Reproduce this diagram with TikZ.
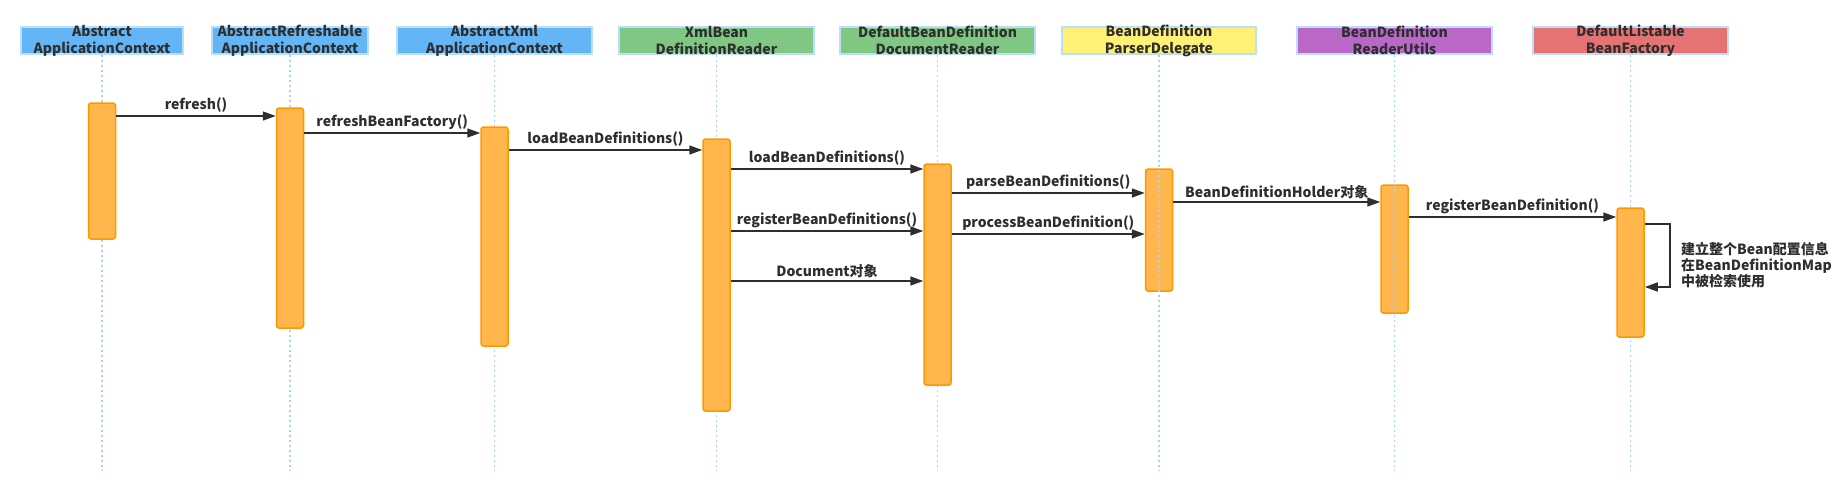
\documentclass[tikz,border=0pt]{standalone}
\usepackage{fontspec}
\setmainfont{Noto Sans CJK SC}
\usetikzlibrary{arrows.meta}

\definecolor{ink}{HTML}{2E2E2E}
\definecolor{hblue}{HTML}{64B5F6}
\definecolor{hgreen}{HTML}{81C784}
\definecolor{hyellow}{HTML}{FFF176}
\definecolor{hpurple}{HTML}{BA68C8}
\definecolor{hred}{HTML}{E57373}
\definecolor{hline}{HTML}{BBDEFB}
\definecolor{lifeblue}{HTML}{A8D3F7}
\definecolor{barfill}{HTML}{FFB74D}
\definecolor{barline}{HTML}{FF9800}

\begin{document}
\begin{tikzpicture}[x=1pt,y=-1pt,
  font=\bfseries\fontsize{14}{17}\selectfont, text=ink,
  head/.style={draw=hline, line width=1.2pt, minimum height=27pt, inner sep=0pt},
  htext/.style={align=center, inner sep=0pt},
  life/.style={draw=lifeblue, line width=1.2pt, dash pattern=on 2pt off 3pt},
  act/.style={draw=barline, fill=barfill, line width=1.5pt, rounded corners=2.5pt,
    minimum width=27pt, inner sep=0pt},
  msg/.style={draw=ink, line width=1.6pt, -{Triangle[length=13pt,width=9pt]}},
  lbl/.style={midway, above, inner sep=2.5pt}]
\useasboundingbox (0,0) rectangle (1845,483);

% heads
\node[head, fill=hblue, minimum width=162pt] (h1) at (102,40.5) {};
\node[head, fill=hblue, minimum width=156pt] (h2) at (290,40.5) {};
\node[head, fill=hblue, minimum width=195pt] (h3) at (494.5,40.5) {};
\node[head, fill=hgreen, minimum width=195pt] (h4) at (716.5,40.5) {};
\node[head, fill=hgreen, minimum width=195pt] (h5) at (937.5,40.5) {};
\node[head, fill=hyellow, minimum width=194pt] (h6) at (1159,40.5) {};
\node[head, fill=hpurple, minimum width=195pt] (h7) at (1394.5,40.5) {};
\node[head, fill=hred, minimum width=195pt] (h8) at (1630.5,40.5) {};

\node[htext] (t1) at (h1) {Abstract\\ApplicationContext};
\node[htext] (t2) at (h2) {AbstractRefreshable\\ApplicationContext};
\node[htext] (t3) at (h3) {AbstractXml\\ApplicationContext};
\node[htext] (t4) at (h4) {XmlBean\\DefinitionReader};
\node[htext] (t5) at (h5) {DefaultBeanDefinition\\DocumentReader};
\node[htext] (t6) at (h6) {BeanDefinition\\ParserDelegate};
\node[htext] (t7) at (h7) {BeanDefinition\\ReaderUtils};
\node[htext] (t8) at (h8) {DefaultListable\\BeanFactory};

\foreach \h in {h1,h2,h3,h4,h5,h8}
  \draw[life] (\h.south) -- (\h.south |- 0,471);

%-------------------------------------
% activations
\node[act, minimum height=136pt] (b1) at (h1 |- 0,171) {};
\node[act, minimum height=220pt] (b2) at (h2 |- 0,218) {};
\node[act, minimum height=219pt] (b3) at (h3 |- 0,236.5) {};
\node[act, minimum height=272pt] (b4) at (h4 |- 0,275) {};
\node[act, minimum height=221pt] (b5) at (h5 |- 0,274.5) {};
\node[act, minimum height=122pt] (b6) at (h6 |- 0,230) {};
\node[act, minimum height=128pt] (b7) at (h7 |- 0,249) {};
\node[act, minimum height=129pt] (b8) at (h8 |- 0,272.5) {};

\foreach \h in {h6,h7}
  \draw[life] (\h.south) -- (\h.south |- 0,471);

%-------------------------------------
% calls
\draw[msg] (b1.east |- 0,116) -- node[lbl]{refresh()} (b2.west |- 0,116);
\draw[msg] (b2.east |- 0,133) -- node[lbl]{refreshBeanFactory()} (b3.west |- 0,133);
\draw[msg] (b3.east |- 0,150) -- node[lbl]{loadBeanDefinitions()} (b4.west |- 0,150);
\draw[msg] (b4.east |- 0,169) -- node[lbl]{loadBeanDefinitions()} (b5.west |- 0,169);
\draw[msg] (b4.east |- 0,231) -- node[lbl]{registerBeanDefinitions()} (b5.west |- 0,231);
\draw[msg] (b4.east |- 0,281) -- node[lbl]{Document对象} (b5.west |- 0,281);
\draw[msg] (b5.east |- 0,193) -- node[lbl]{parseBeanDefinitions()} (b6.west |- 0,193);
\draw[msg] (b5.east |- 0,234) -- node[lbl]{processBeanDefinition()} (b6.west |- 0,234);
\draw[msg] (b6.east |- 0,202) -- node[lbl]{BeanDefinitionHolder对象} (b7.west |- 0,202);
\draw[msg] (b7.east |- 0,217) -- node[lbl]{registerBeanDefinition()} (b8.west |- 0,217);

% self call
\draw[msg] (b8.east |- 0,224) -- ++(25,0) |- (b8.east |- 0,287);
\node[anchor=west, align=left, inner sep=0pt, font=\bfseries\fontsize{14}{16}\selectfont]
  (note) at (1681,265) {建立整个Bean配置信息\\在BeanDefinitionMap\\中被检索使用};

\end{tikzpicture}
\end{document}
